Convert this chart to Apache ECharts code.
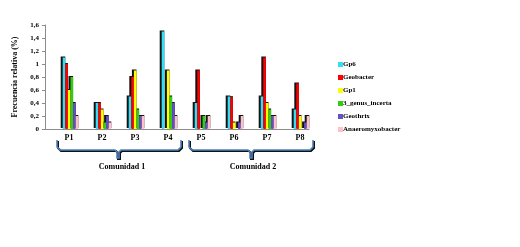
<!DOCTYPE html>
<html>
<head>
<meta charset="utf-8">
<script src="https://cdn.jsdelivr.net/npm/echarts@6/dist/echarts.min.js"></script>
<style>
  html, body { margin: 0; padding: 0; background: #fff; }
  #main { width: 520px; height: 247px; }
</style>
</head>
<body>
<div id="main"></div>
<script>
// datos
var categorias = ['P1', 'P2', 'P3', 'P4', 'P5', 'P6', 'P7', 'P8'];
var gp6 = [1.1, 0.4, 0.5, 1.5, 0.4, 0.5, 0.5, 0.3];
var geobacter = [1.0, 0.4, 0.8, 0, 0.9, 0.49, 1.1, 0.7];
var gp1 = [0.6, 0.3, 0.9, 0.9, 0, 0.1, 0.4, 0.2];
var genus3 = [0.8, 0.1, 0.3, 0.5, 0.2, 0, 0.3, 0];
var geothrix = [0.4, 0.2, 0.2, 0.4, 0.1, 0.1, 0.2, 0.1];
var anaero = [0.2, 0.1, 0.2, 0.2, 0.2, 0.2, 0.2, 0.2];
var yTicks = [0, 0.2, 0.4, 0.6, 0.8, 1, 1.2, 1.4, 1.6];

var nombres = ['Gp6', 'Geobacter', 'Gp1', '3_genus_incerta', 'Geothrix', 'Anaeromyxobacter'];
var valores = [gp6, geobacter, gp1, genus3, geothrix, anaero];
var colores = ['#33DDF5', '#FF0000', '#FFFF00', '#33CC11', '#6650C8', '#FFC0CB'];

var fuente = 'Liberation Serif';
var myChart = echarts.init(document.getElementById('main'));

var series = [];
// sombras negras (efecto 3D)
valores.forEach(function(v, i) {
    series.push({
        name: 'sombra' + i,
        type: 'bar',
        xAxisIndex: 2,
        yAxisIndex: 2,
        barWidth: 4.6,
        barGap: '-43.5%',
        itemStyle: { color: '#141414' },
        silent: true,
        z: 2,
        data: v
    });
});
// caras de color
valores.forEach(function(v, i) {
    series.push({
        name: nombres[i],
        type: 'bar',
        xAxisIndex: 1,
        yAxisIndex: 1,
        barWidth: 2.6,
        barGap: '0%',
        itemStyle: { color: colores[i] },
        z: 3,
        data: v
    });
});

var ejeY = {
    type: 'value',
    min: 0,
    max: 1.6,
    interval: 0.2
};

option = {
    animation: false,
    legend: {
        orient: 'vertical',
        left: 333,
        top: 56,
        itemWidth: 5,
        itemHeight: 5,
        itemGap: 6,
        icon: 'rect',
        textStyle: {
            fontFamily: fuente,
            fontWeight: 'bold',
            fontSize: 7,
            color: '#000',
            padding: [0, 0, 0, -5]
        },
        data: nombres
    },
    grid: [
        { left: 45, top: 25, width: 264, height: 104 },
        { left: 54, top: 25, width: 264, height: 104 },
        { left: 53, top: 24, width: 264, height: 104 }
    ],
    xAxis: [{
        type: 'category',
        gridIndex: 0,
        data: categorias,
        axisLine: { lineStyle: { color: '#8c8c8c', width: 1 } },
        axisTick: { alignWithLabel: true, length: 3, lineStyle: { color: '#8c8c8c' } },
        axisLabel: {
            fontFamily: fuente,
            fontWeight: 'bold',
            fontSize: 8,
            color: '#000',
            margin: 5,
            padding: [0, 0, 0, 15]
        }
    }, {
        type: 'category', gridIndex: 1, data: categorias, show: false
    }, {
        type: 'category', gridIndex: 2, data: categorias, show: false
    }],
    yAxis: [{
        type: 'value',
        gridIndex: 0,
        min: yTicks[0],
        max: yTicks[yTicks.length - 1],
        interval: 0.2,
        name: 'Frecuencia relativa (%)',
        nameLocation: 'middle',
        nameRotate: 90,
        nameGap: 26,
        nameTextStyle: {
            fontFamily: fuente,
            fontWeight: 'bold',
            fontSize: 8,
            color: '#000'
        },
        axisLine: { show: true, lineStyle: { color: '#8c8c8c' } },
        axisTick: { show: true, length: 3, lineStyle: { color: '#8c8c8c' } },
        splitLine: { show: false },
        axisLabel: {
            fontFamily: fuente,
            fontWeight: 'bold',
            fontSize: 7,
            color: '#000',
            margin: 6,
            formatter: function(v) {
                return String(+v.toFixed(1)).replace('.', ',');
            }
        }
    },
    Object.assign({ gridIndex: 1, show: false }, ejeY),
    Object.assign({ gridIndex: 2, show: false }, ejeY)],
    graphic: [
        // llave Comunidad 1
        {
            type: 'polyline', z: 10, silent: true,
            shape: { points: [[58, 141], [58, 148], [61, 151], [116, 151], [118, 153], [118, 159], [120, 159], [120, 153], [122, 151], [179, 151], [182, 148], [182, 141]] },
            style: { stroke: '#111', lineWidth: 2, fill: null }
        },
        {
            type: 'polyline', z: 11, silent: true,
            shape: { points: [[57, 140], [57, 147], [60, 150], [115, 150], [117, 152], [117, 158], [119, 158], [119, 152], [121, 150], [178, 150], [181, 147], [181, 140]] },
            style: { stroke: '#4F81BD', lineWidth: 1.6, fill: null }
        },
        // llave Comunidad 2
        {
            type: 'polyline', z: 10, silent: true,
            shape: { points: [[190, 141], [190, 148], [193, 151], [249, 151], [251, 153], [251, 159], [253, 159], [253, 153], [255, 151], [311, 151], [314, 148], [314, 141]] },
            style: { stroke: '#111', lineWidth: 2, fill: null }
        },
        {
            type: 'polyline', z: 11, silent: true,
            shape: { points: [[189, 140], [189, 147], [192, 150], [248, 150], [250, 152], [250, 158], [252, 158], [252, 152], [254, 150], [310, 150], [313, 147], [313, 140]] },
            style: { stroke: '#4F81BD', lineWidth: 1.6, fill: null }
        },
        {
            type: 'text', silent: true,
            style: { x: 122, y: 167, text: 'Comunidad 1', textAlign: 'center', textVerticalAlign: 'middle', font: 'bold 8px "Liberation Serif"', fill: '#000' }
        },
        {
            type: 'text', silent: true,
            style: { x: 253, y: 167, text: 'Comunidad 2', textAlign: 'center', textVerticalAlign: 'middle', font: 'bold 8px "Liberation Serif"', fill: '#000' }
        }
    ],
    series: series
};

myChart.setOption(option);
</script>
</body>
</html>
